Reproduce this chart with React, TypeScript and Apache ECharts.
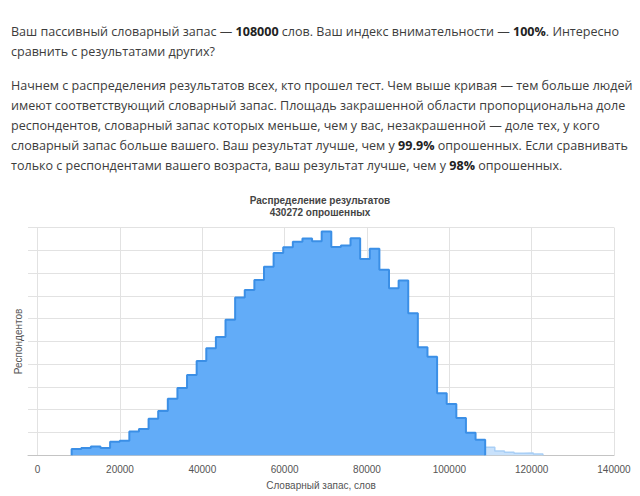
import React, { useEffect, useRef } from "react";
import * as echarts from "echarts";

// ---- Data ----
// Histogram bins: vocabulary size (words) of each bin's left edge = BIN_START + i * BIN_WIDTH
const BIN_START = 8260;
const BIN_WIDTH = 2336;
// Respondents per bin, the part below "your" result (shaded)
const shadedCounts = [
  560, 640, 780, 640, 1200, 1280, 2100, 2300, 3200, 3900,
  4960, 5900, 7040, 8280, 9400, 10380, 11900, 13860, 14520, 15400,
  16560, 17760, 18260, 18740, 19040, 18800, 19640, 18280, 18420, 19060,
  17240, 18140, 16300, 14660, 15340, 12480, 9480, 8660, 5440, 4500,
  3280, 1980, 1360,
];
// Respondents per bin above "your" result (unshaded tail)
const tailCounts = [700, 380, 260, 180, 200, 120];

const X_TICKS = [0, 20000, 40000, 60000, 80000, 100000, 120000, 140000];
const X_MIN = -2340;
const X_MAX = 140000;
const Y_MAX = 20000;
const Y_INTERVAL = 2000;

const TITLE = "Распределение результатов";
const RESPONDENTS = 430272;
const X_NAME = "Словарный запас, слов";
const Y_NAME = "Респондентов";

const PARAGRAPH_1 = [
  "Ваш пассивный словарный запас — {b|108000} слов. Ваш индекс внимательности — {b|100%}. Интересно",
  "сравнить с результатами других?",
];
const PARAGRAPH_2 = [
  "Начнем с распределения результатов всех, кто прошел тест. Чем выше кривая — тем больше людей",
  "имеют соответствующий словарный запас. Площадь закрашенной области пропорциональна доле",
  "респондентов, словарный запас которых меньше, чем у вас, незакрашенной — доле тех, у кого",
  "словарный запас больше вашего. Ваш результат лучше, чем у {b|99.9%} опрошенных. Если сравнивать",
  "только с респондентами вашего возраста, ваш результат лучше, чем у {b|98%} опрошенных.",
];

const edge = (i: number) => BIN_START + i * BIN_WIDTH;

function stepData(counts: number[], offset: number) {
  const pts: [number, number][] = [[edge(offset), 0]];
  counts.forEach((v, i) => pts.push([edge(offset + i), v]));
  pts.push([edge(offset + counts.length), counts[counts.length - 1]]);
  pts.push([edge(offset + counts.length), 0]);
  return pts;
}

const TEXT_FONT_FAMILY = '"Open Sans", "Noto Sans", sans-serif';
const TEXT_SIZE = 12.55;
const CHART_FONT = '"Liberation Sans", Arial, sans-serif';

export default function App() {
  const ref = useRef<HTMLDivElement>(null);
  useEffect(() => {
    if (!ref.current) return;
    const chart = echarts.init(ref.current, undefined, { renderer: "svg" });

    const lineY1 = [31.5, 51];
    const lineY2 = [85, 105, 125, 145, 165];
    const textEl = (txt: string, y: number) => ({
      type: "text",
      x: 11,
      y,
      silent: true,
      style: {
        text: txt,
        fontFamily: TEXT_FONT_FAMILY,
        fontSize: TEXT_SIZE,
        fontWeight: "normal",
        fill: "#3c3c3c",
        verticalAlign: "middle",
        rich: {
          b: {
            fontFamily: TEXT_FONT_FAMILY,
            fontSize: TEXT_SIZE,
            fontWeight: "bold",
            fill: "#222",
            verticalAlign: "middle",
          },
        },
      },
    });

    const graphics = [
      ...PARAGRAPH_1.map((t, i) => textEl(t, lineY1[i])),
      ...PARAGRAPH_2.map((t, i) => textEl(t, lineY2[i])),
    ];

    chart.setOption({
      animation: false,
      backgroundColor: "#fff",
      textStyle: { fontFamily: CHART_FONT },
      title: {
        text: `${TITLE}\n${RESPONDENTS} опрошенных`,
        left: "center",
        top: 189,
        textStyle: {
          fontFamily: CHART_FONT,
          fontSize: 10,
          fontWeight: "bold",
          color: "#444",
          lineHeight: 12,
        },
      },
      graphic: graphics,
      grid: {
        left: 28,
        right: 26,
        top: 227.5,
        bottom: 40.7,
        containLabel: false,
        outerBoundsMode: "none",
      },
      xAxis: {
        type: "value",
        min: X_MIN,
        max: X_MAX,
        name: X_NAME,
        nameLocation: "middle",
        nameGap: 25,
        nameTextStyle: { fontFamily: CHART_FONT, fontSize: 10, color: "#555" },
        axisLine: { show: true, lineStyle: { color: "#c4c4c4", width: 1 } },
        axisTick: { show: false, customValues: X_TICKS },
        axisLabel: {
          customValues: X_TICKS,
          margin: 9,
          fontFamily: CHART_FONT,
          fontSize: 10,
          color: "#555",
          formatter: (v: number) => String(v),
        },
        splitLine: { show: true, lineStyle: { color: "#e2e2e2", width: 1 } },
      },
      yAxis: {
        type: "value",
        min: 0,
        max: Y_MAX,
        interval: Y_INTERVAL,
        name: Y_NAME,
        nameLocation: "middle",
        nameGap: 5,
        nameRotate: 90,
        nameTextStyle: { fontFamily: CHART_FONT, fontSize: 10, color: "#555" },
        axisLine: { show: false },
        axisTick: { show: false },
        axisLabel: { show: false },
        splitLine: { show: true, lineStyle: { color: "#e2e2e2", width: 1 } },
      },
      series: [
        {
          type: "line",
          step: "end",
          data: stepData(tailCounts, shadedCounts.length),
          symbol: "none",
          showSymbol: false,
          lineStyle: { color: "#a9cff6", width: 1.5 },
          areaStyle: { color: "#c8e1fb", opacity: 1, origin: "start" },
          z: 2,
        },
        {
          type: "line",
          step: "end",
          data: stepData(shadedCounts, 0),
          symbol: "none",
          showSymbol: false,
          lineStyle: { color: "#3b8fe6", width: 2 },
          areaStyle: { color: "#62acf8", opacity: 1, origin: "start" },
          z: 3,
        },
      ],
    });
    return () => chart.dispose();
  }, []);

  return (
    <div
      ref={ref}
      style={{ position: "fixed", left: 0, top: 0, width: 640, height: 496 }}
    />
  );
}
